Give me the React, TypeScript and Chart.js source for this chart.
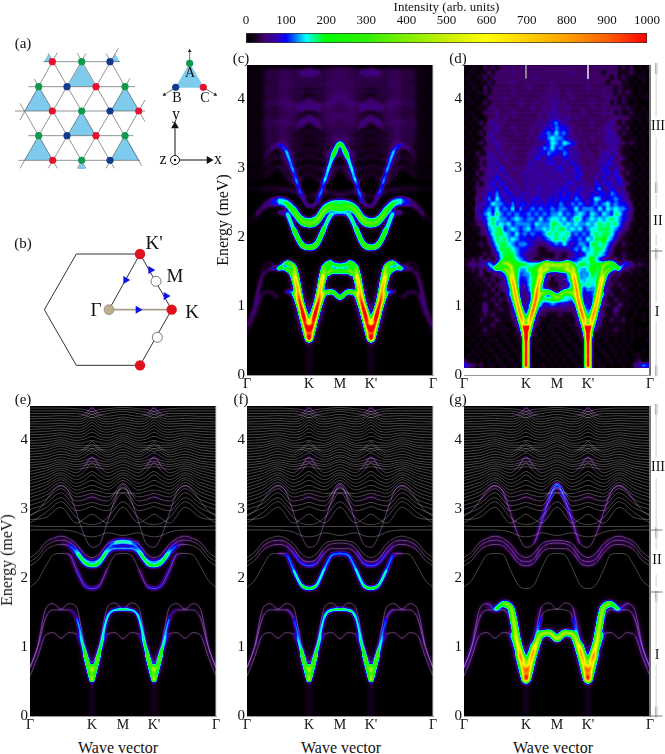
import React, { useEffect, useRef } from "react";
import { Chart, registerables } from "chart.js";

Chart.register(...registerables);

// --- colour scale ---
const colorValues = [0, 20, 45, 77, 100, 125, 150, 173, 198, 300, 400, 500, 600, 700, 800, 900, 1000];
const colorHex = ["#000000", "#14001c", "#40006c", "#3000b0", "#0000ff", "#0080ff", "#00ffff", "#00ff80", "#00ff00", "#30f000", "#80f000", "#c8f000", "#ffff00", "#ffd000", "#ffa000", "#ff6000", "#ff0000"];
const colorTicks = [0, 100, 200, 300, 400, 500, 600, 700, 800, 900, 1000];

// --- axes ---
const energyTicks = [0, 1, 2, 3, 4];
const kTickValues = [0, 1, 1.5, 2, 3];
const kTickLabels = ["Γ", "K", "M", "K'", "Γ"];

// wave vector grids, Γ=0 K=1 M=1.5 K'=2 Γ=3
const kFine = [0, 0.125, 0.25, 0.375, 0.5, 0.625, 0.75, 0.875, 1, 1.125, 1.25, 1.375, 1.5, 1.625, 1.75, 1.875, 2, 2.125, 2.25, 2.375, 2.5, 2.625, 2.75, 2.875, 3];
const kUpper = [0, 0.25, 0.5, 0.75, 0.875, 1, 1.125, 1.25, 1.5, 1.75, 1.875, 2, 2.125, 2.25, 2.5, 2.75, 3];
const kRing = [1.3, 1.375, 1.5, 1.625, 1.7];

const low1 = [0.58, 0.86, 1.17, 1.21, 1.13, 1.21, 1.19, 0.9, 0.52, 0.9, 1.19, 1.21, 1.12, 1.21, 1.19, 0.9, 0.52, 0.9, 1.19, 1.21, 1.13, 1.21, 1.17, 0.86, 0.58];
const low2 = [0.7, 1.0, 1.42, 1.54, 1.54, 1.54, 1.42, 0.97, 0.66, 0.97, 1.44, 1.54, 1.55, 1.54, 1.44, 0.97, 0.66, 0.97, 1.42, 1.54, 1.54, 1.54, 1.42, 1.0, 0.7];
const low3 = [0.7, 1.02, 1.55, 1.63, 1.55, 1.63, 1.58, 1.05, 0.78, 1.05, 1.58, 1.64, 1.55, 1.64, 1.58, 1.05, 0.78, 1.05, 1.58, 1.63, 1.55, 1.63, 1.55, 1.02, 0.7];
const mid1 = [1.87, 1.97, 2.17, 2.34, 2.36, 2.35, 2.12, 1.9, 1.85, 1.9, 2.14, 2.34, 2.36, 2.34, 2.14, 1.9, 1.85, 1.9, 2.12, 2.35, 2.36, 2.34, 2.17, 1.97, 1.87];
const mid2 = [2.18, 2.26, 2.4, 2.47, 2.49, 2.47, 2.36, 2.22, 2.18, 2.22, 2.37, 2.43, 2.43, 2.43, 2.37, 2.22, 2.18, 2.22, 2.36, 2.47, 2.49, 2.47, 2.4, 2.26, 2.18];
const mid3 = [2.24, 2.32, 2.46, 2.53, 2.55, 2.53, 2.43, 2.28, 2.24, 2.28, 2.44, 2.5, 2.51, 2.5, 2.44, 2.28, 2.24, 2.28, 2.43, 2.53, 2.55, 2.53, 2.46, 2.32, 2.24];
const mid4 = [2.3, 2.38, 2.52, 2.58, 2.61, 2.58, 2.5, 2.36, 2.3, 2.36, 2.5, 2.54, 2.55, 2.54, 2.5, 2.36, 2.3, 2.36, 2.5, 2.58, 2.61, 2.58, 2.52, 2.38, 2.3];
const hump = [2.9, 2.98, 3.12, 3.27, 3.34, 3.26, 2.95, 2.62, 2.45, 2.5, 2.82, 3.15, 3.36, 3.15, 2.82, 2.5, 2.45, 2.62, 2.95, 3.26, 3.34, 3.27, 3.12, 2.98, 2.9];
const ringTop = [1.57, 1.6, 1.6, 1.6, 1.57];
const ringMid = [1.46, 1.5, 1.5, 1.5, 1.46];

const upperBands = [
  [2.7, 2.7, 2.7, 2.67, 2.62, 2.6, 2.62, 2.66, 2.62, 2.66, 2.62, 2.6, 2.62, 2.67, 2.7, 2.7, 2.7],
  [2.76, 2.75, 2.75, 2.75, 2.75, 2.75, 2.75, 2.75, 2.75, 2.75, 2.75, 2.75, 2.75, 2.75, 2.75, 2.75, 2.76],
  [2.85, 2.88, 3.03, 2.8, 2.86, 2.93, 2.86, 2.8, 3.03, 2.8, 2.86, 2.93, 2.86, 2.8, 3.03, 2.88, 2.85],
  [2.8, 2.95, 3.11, 2.88, 2.8, 2.78, 2.8, 2.88, 3.11, 2.88, 2.8, 2.78, 2.8, 2.88, 3.11, 2.95, 2.8],
  [2.92, 3.02, 3.17, 2.98, 3.0, 3.04, 3.0, 2.98, 3.24, 2.98, 3.0, 3.04, 3.0, 2.98, 3.17, 3.02, 2.92],
  [3.0, 3.08, 3.24, 3.05, 3.07, 3.1, 3.07, 3.05, 3.32, 3.05, 3.07, 3.1, 3.07, 3.05, 3.24, 3.08, 3.0],
  [3.06, 3.14, 3.3, 3.12, 3.14, 3.18, 3.14, 3.12, 3.38, 3.12, 3.14, 3.18, 3.14, 3.12, 3.3, 3.14, 3.06],
  [3.12, 3.2, 3.35, 3.18, 3.2, 3.23, 3.2, 3.18, 3.3, 3.18, 3.2, 3.23, 3.2, 3.18, 3.35, 3.2, 3.12],
  [3.17, 3.25, 3.39, 3.23, 3.26, 3.28, 3.26, 3.23, 3.24, 3.23, 3.26, 3.28, 3.26, 3.23, 3.39, 3.25, 3.17],
  [3.22, 3.3, 3.43, 3.28, 3.31, 3.35, 3.31, 3.28, 3.42, 3.28, 3.31, 3.35, 3.31, 3.28, 3.43, 3.3, 3.22],
  [3.27, 3.35, 3.46, 3.33, 3.37, 3.42, 3.37, 3.33, 3.46, 3.33, 3.37, 3.42, 3.37, 3.33, 3.46, 3.35, 3.27],
  [3.32, 3.39, 3.5, 3.38, 3.42, 3.5, 3.42, 3.38, 3.5, 3.38, 3.42, 3.5, 3.42, 3.38, 3.5, 3.39, 3.32],
  [3.37, 3.44, 3.53, 3.43, 3.48, 3.55, 3.48, 3.43, 3.53, 3.43, 3.48, 3.55, 3.48, 3.43, 3.53, 3.44, 3.37],
  [3.42, 3.48, 3.57, 3.48, 3.55, 3.68, 3.55, 3.48, 3.57, 3.48, 3.55, 3.68, 3.55, 3.48, 3.57, 3.48, 3.42],
  [3.46, 3.52, 3.6, 3.53, 3.62, 3.76, 3.62, 3.53, 3.61, 3.53, 3.62, 3.76, 3.62, 3.53, 3.6, 3.52, 3.46],
  [3.51, 3.56, 3.63, 3.58, 3.6, 3.62, 3.6, 3.58, 3.65, 3.58, 3.6, 3.62, 3.6, 3.58, 3.63, 3.56, 3.51],
  [3.55, 3.6, 3.66, 3.62, 3.64, 3.66, 3.64, 3.62, 3.69, 3.62, 3.64, 3.66, 3.64, 3.62, 3.66, 3.6, 3.55],
  [3.6, 3.63, 3.69, 3.65, 3.67, 3.7, 3.67, 3.65, 3.72, 3.65, 3.67, 3.7, 3.67, 3.65, 3.69, 3.63, 3.6],
  [3.64, 3.67, 3.72, 3.69, 3.71, 3.74, 3.71, 3.69, 3.76, 3.69, 3.71, 3.74, 3.71, 3.69, 3.72, 3.67, 3.64],
  [3.68, 3.7, 3.76, 3.72, 3.76, 3.82, 3.76, 3.72, 3.79, 3.72, 3.76, 3.82, 3.76, 3.72, 3.76, 3.7, 3.68],
  [3.72, 3.74, 3.8, 3.76, 3.81, 3.88, 3.81, 3.76, 3.83, 3.76, 3.81, 3.88, 3.81, 3.76, 3.8, 3.74, 3.72],
  [3.76, 3.78, 3.84, 3.79, 3.85, 3.94, 3.85, 3.79, 3.87, 3.79, 3.85, 3.94, 3.85, 3.79, 3.84, 3.78, 3.76],
  [3.8, 3.82, 3.88, 3.83, 3.88, 3.98, 3.88, 3.83, 3.91, 3.83, 3.88, 3.98, 3.88, 3.83, 3.88, 3.82, 3.8],
  [3.84, 3.86, 3.92, 3.86, 3.87, 3.84, 3.87, 3.86, 3.94, 3.86, 3.87, 3.84, 3.87, 3.86, 3.92, 3.86, 3.84],
  [3.88, 3.9, 3.95, 3.9, 3.9, 3.88, 3.9, 3.9, 3.98, 3.9, 3.9, 3.88, 3.9, 3.9, 3.95, 3.9, 3.88],
  [3.92, 3.93, 3.98, 3.93, 3.93, 3.92, 3.93, 3.93, 4.01, 3.93, 3.93, 3.92, 3.93, 3.93, 3.98, 3.93, 3.92],
  [3.96, 3.97, 4.01, 3.96, 3.97, 4.0, 3.97, 3.96, 4.04, 3.96, 3.97, 4.0, 3.97, 3.96, 4.01, 3.97, 3.96],
  [4.0, 4.01, 4.04, 4.0, 4.02, 4.06, 4.02, 4.0, 4.07, 4.0, 4.02, 4.06, 4.02, 4.0, 4.04, 4.01, 4.0],
  [4.04, 4.05, 4.08, 4.04, 4.06, 4.12, 4.06, 4.04, 4.1, 4.04, 4.06, 4.12, 4.06, 4.04, 4.08, 4.05, 4.04],
  [4.08, 4.09, 4.11, 4.08, 4.1, 4.17, 4.1, 4.08, 4.14, 4.08, 4.1, 4.17, 4.1, 4.08, 4.11, 4.09, 4.08],
  [4.12, 4.13, 4.15, 4.12, 4.14, 4.22, 4.14, 4.12, 4.17, 4.12, 4.14, 4.22, 4.14, 4.12, 4.15, 4.13, 4.12],
  [4.16, 4.17, 4.18, 4.16, 4.18, 4.26, 4.18, 4.16, 4.2, 4.16, 4.18, 4.26, 4.18, 4.16, 4.18, 4.17, 4.16],
  [4.2, 4.2, 4.22, 4.2, 4.22, 4.3, 4.22, 4.2, 4.24, 4.2, 4.22, 4.3, 4.22, 4.2, 4.22, 4.2, 4.2],
  [4.24, 4.24, 4.25, 4.24, 4.26, 4.34, 4.26, 4.24, 4.27, 4.24, 4.26, 4.34, 4.26, 4.24, 4.25, 4.24, 4.24],
  [4.27, 4.28, 4.29, 4.27, 4.3, 4.38, 4.3, 4.27, 4.31, 4.27, 4.3, 4.38, 4.3, 4.27, 4.29, 4.28, 4.27],
  [4.31, 4.32, 4.32, 4.31, 4.33, 4.42, 4.33, 4.31, 4.34, 4.31, 4.33, 4.42, 4.33, 4.31, 4.32, 4.32, 4.31],
  [4.35, 4.35, 4.36, 4.35, 4.37, 4.47, 4.37, 4.35, 4.38, 4.35, 4.37, 4.47, 4.37, 4.35, 4.36, 4.35, 4.35],
  [4.39, 4.39, 4.39, 4.39, 4.37, 4.33, 4.37, 4.39, 4.42, 4.39, 4.37, 4.33, 4.37, 4.39, 4.39, 4.39, 4.39],
  [4.43, 4.43, 4.43, 4.43, 4.41, 4.38, 4.41, 4.43, 4.45, 4.43, 4.41, 4.38, 4.41, 4.43, 4.43, 4.43, 4.43],
  [4.47, 4.47, 4.47, 4.46, 4.45, 4.42, 4.45, 4.46, 4.48, 4.46, 4.45, 4.42, 4.45, 4.46, 4.47, 4.47, 4.47],
];

// --- intensities along each band, per panel ---
const cLow1 = [30, 40, 60, 60, 50, 0, 200, 450, 550, 450, 380, 290, 280, 290, 380, 450, 550, 450, 200, 0, 50, 60, 60, 40, 30];
const cLow2 = [30, 50, 60, 75, 90, 200, 420, 450, 550, 450, 380, 100, 0, 100, 380, 450, 550, 450, 420, 200, 90, 75, 60, 50, 30];
const cLow3 = [20, 30, 40, 40, 70, 260, 420, 450, 450, 400, 340, 100, 0, 100, 340, 400, 450, 450, 420, 260, 70, 40, 40, 30, 20];
const cRingTop = [150, 150, 140, 150, 150];
const cRingMid = [260, 260, 250, 260, 260];
const cMid1 = [0, 0, 0, 0, 20, 110, 210, 280, 300, 280, 200, 130, 110, 130, 200, 280, 300, 280, 210, 110, 20, 0, 0, 0, 0];
const cMid2 = [10, 20, 50, 70, 110, 130, 190, 240, 290, 260, 240, 270, 260, 270, 240, 260, 290, 240, 190, 130, 110, 70, 50, 20, 10];
const cMid3 = [10, 20, 60, 70, 120, 130, 130, 160, 220, 170, 150, 160, 170, 160, 150, 170, 220, 160, 130, 130, 120, 70, 60, 20, 10];
const cHump = [0, 0, 5, 25, 60, 110, 110, 90, 60, 80, 120, 150, 240, 150, 120, 80, 60, 90, 110, 110, 60, 25, 5, 0, 0];
const cFaint = [0, 40, 75, 70, 60, 60, 60, 70, 78, 70, 60, 60, 60, 70, 75, 40, 0];

const dLow1 = [0, 0, 0, 0, 0, 0, 60, 120, 200, 200, 240, 260, 250, 260, 240, 200, 200, 120, 60, 0, 0, 0, 0, 0, 0];
const dLow2 = [0, 0, 0, 40, 60, 150, 420, 500, 500, 500, 420, 120, 0, 120, 420, 500, 500, 500, 420, 150, 60, 40, 0, 0, 0];
const dLow3 = [0, 0, 20, 60, 110, 240, 300, 330, 320, 330, 280, 120, 0, 120, 280, 330, 320, 330, 300, 240, 110, 60, 20, 0, 0];
const dRingTop = [230, 230, 220, 230, 230];

const eLow1 = [40, 50, 50, 45, 40, 45, 40, 160, 320, 160, 40, 45, 40, 45, 40, 160, 320, 160, 40, 45, 40, 45, 50, 50, 40];
const eLow2 = [40, 50, 50, 50, 50, 60, 150, 200, 280, 210, 200, 220, 200, 220, 200, 210, 280, 200, 150, 60, 50, 50, 50, 50, 40];
const eLow3 = [40, 50, 45, 40, 40, 40, 30, 20, 60, 20, 30, 40, 40, 40, 30, 20, 60, 20, 30, 40, 40, 40, 45, 50, 40];
const eMid1 = [0, 0, 0, 0, 15, 75, 90, 90, 105, 85, 50, 10, 0, 10, 50, 85, 105, 90, 90, 75, 15, 0, 0, 0, 0];
const eMid2 = [0, 0, 0, 10, 30, 80, 150, 190, 215, 185, 130, 125, 130, 125, 130, 185, 215, 190, 150, 80, 30, 10, 0, 0, 0];
const eMid3 = [0, 0, 20, 40, 50, 60, 90, 110, 120, 110, 100, 110, 130, 110, 100, 110, 120, 110, 90, 60, 50, 40, 20, 0, 0];
const eMid4 = [0, 20, 40, 45, 50, 45, 40, 30, 25, 30, 60, 110, 115, 110, 60, 30, 25, 30, 40, 45, 50, 45, 40, 20, 0];
const eHump = [0, 0, 10, 25, 35, 30, 25, 15, 10, 15, 25, 30, 45, 30, 25, 15, 10, 15, 25, 30, 35, 25, 10, 0, 0];

const fLow2 = [40, 50, 50, 50, 50, 60, 130, 170, 260, 170, 210, 250, 220, 250, 210, 170, 260, 170, 130, 60, 50, 50, 50, 50, 40];
const fMid1 = [0, 0, 0, 0, 20, 100, 170, 200, 230, 200, 150, 130, 135, 130, 150, 200, 230, 200, 170, 100, 20, 0, 0, 0, 0];
const fMid2 = [0, 0, 30, 50, 60, 60, 80, 100, 115, 100, 70, 50, 40, 50, 70, 100, 115, 100, 80, 60, 60, 50, 30, 0, 0];
const fMid3 = [0, 20, 50, 60, 60, 50, 50, 50, 60, 50, 40, 40, 40, 40, 40, 50, 60, 50, 50, 50, 60, 60, 50, 20, 0];
const fHump = [0, 0, 10, 30, 45, 40, 30, 15, 10, 15, 30, 50, 70, 50, 30, 15, 10, 15, 30, 40, 45, 30, 10, 0, 0];

const gLow1 = [40, 45, 45, 40, 30, 40, 50, 300, 470, 450, 470, 480, 480, 480, 470, 450, 470, 300, 50, 40, 30, 40, 45, 45, 40];
const gLow2 = [40, 50, 50, 50, 50, 40, 40, 140, 300, 140, 30, 20, 20, 20, 30, 140, 300, 140, 40, 40, 50, 50, 50, 50, 40];
const gLow3 = [40, 50, 40, 60, 100, 340, 450, 450, 470, 80, 30, 20, 20, 20, 30, 80, 470, 450, 450, 340, 100, 60, 40, 50, 40];
const gMid2 = [0, 10, 35, 45, 50, 45, 50, 60, 70, 60, 50, 45, 45, 45, 50, 60, 70, 60, 50, 45, 50, 45, 35, 10, 0];
const gMid3 = [0, 15, 40, 55, 55, 55, 60, 65, 65, 60, 50, 50, 50, 50, 50, 60, 65, 65, 60, 55, 55, 55, 40, 15, 0];
const gMid4 = [0, 15, 35, 50, 55, 50, 50, 50, 50, 50, 45, 40, 40, 40, 45, 50, 50, 50, 50, 50, 55, 50, 35, 15, 0];
const gHump = [0, 10, 30, 55, 60, 60, 70, 40, 15, 50, 80, 95, 130, 95, 80, 50, 15, 40, 70, 60, 60, 55, 30, 10, 0];

const kDomeGlow = [0, 0, 0, 5, 30, 50, 30, 5, 0, 5, 30, 50, 30, 5, 0, 0, 0];

// streak under K and K', and the bright spot at the bottom of each valley
const kTailLeft = [1, 1];
const kTailRight = [2, 2];
const tailEnergy = [0.5, 0];
const tailWeight = [45, 8];
const kCoreEnergy = [0.5, 0.74];
const cCoreWeight = [650, 650];
const eCoreWeight = [300, 300];
const gCoreWeight = [500, 500];
const dTailEnergy = [0.72, 0.1];
const dTailWeight = [800, 800];
const dTailHalo = [300, 300];

// measured map of panel d, estimated cell by cell: 0 dark .. 9 bright, top row at 4.5 meV
const speckleLevels = [0, 20, 42, 60, 80, 100, 130, 155, 190, 240];
const dSpeckleRows = [
  "10110212122222222222222222222222222222212120101",
  "01101121222232222222222222232222222122211121010",
  "11011212222222222232222222222223222221212110 11",
  "01101121222232222222223222222222222212221101 01",
  "10110212222222223222223222222223222222121110 10",
  "01011212222232222222232322322222222322121210101",
  "11010122223222222222323322232222222232212111011",
  "01101212222222322232233423222222322231212101 00",
  "10011123222222222322324323322222222322221211010",
  "01101222322232222223243432322232222323121120101",
  "10110122323222222223234433423222222222322211101",
  "01012134232222222233345644322222322234212110101",
  "10101223422232222323454655432222222343221201010",
  "01012143322223222324565756432322223244312110101",
  "10101234232222223235467665433222322343421111010",
  "01012133423222222233457657654232222243422121010",
  "10101232432232222344657565443222223234321101010",
  "01021143242322223435465546534323222443421110101",
  "10112234324232223354354435443322323435232101010",
  "01012143432322224433445344354322234354321110101",
  "10112234253233234343343453435432323543432111010",
  "01021243434322343434334344344523234453531210101",
  "10112334543432334343433434435432343534452111010",
  "01021245354343243434344343544343254454353210101",
  "10122344535434334344434445434534356345433111010",
  "01023354644543444344344454545443545546544210101",
  "10132464754454534454445455546544576455654311010",
  "01034457665464554545455465465654565675655420101",
  "10143565756574645656556566557566657576766531010",
  "01044675865656556565656675656765765765875430101",
  "10134578766567656657567767568756767678765421010",
  "01123478676756666576668876767667678787864311001",
  "10112367885676567566768788676756778887653210110",
  "01012257887657565655687877856565787887532110101",
  "10101136878676554544567878655657688976421101010",
  "01012125788765665432345657545665887864212110101",
  "10101113688876554321123343456576788753111101010",
  "01011212478886543221111221235457787642112110101",
  "11213121368987653211111211245677975311212111 11",
  "12322343457899887777888887766887888654322321211",
  "11212132345788668899988899987667985443131211101",
  "01112112234577566865322234568566873432121110110",
  "10111212123466456764321233567567763321211101001",
  "01011121222465346753211122357668652212121110110",
  "10101112122355235775321123577546532121112101001",
  "01011211211344123577645567765334421212111110100",
  "10101112121233212466788877643223312111211101010",
  "01011311211132113345456544321123112121131110101",
  "00101411121122111232222222311122121111411101000",
  "01011212111121111111211121111112111211211001 01",
  "00102111211111101111101111101111112112112010010",
  "01011112111011011011011110111011112111111010000",
  "10101211111101101101011011011011011111211010101",
  "01011111011011010110101101101101101111101010100",
  "00101011101101101011010110110110110110101010001",
  "01010110110110110110101011011011011011010100000",
  "00101011011011001011010101101101101101101010010",
  "01010101101101110101101010110110110110101001100",
  "20101010110110101010010101011011011011010101201",
  "53212011011011010101101010101101101101001013465",
].map((row) => row.replace(/ /g, ""));
const dStripeEnergy = [4.5, 4.3];

// --- right hand brackets of panels d and g ---
const bracketX = 3.1;
const dBracketSpans = [[4.38, 3.75], [3.45, 2.78], [2.62, 2.42], [2.05, 1.88], [1.72, 1.05], [0.78, 0.14]];
const dBreaks = [4.45, 2.72, 1.76, 0.06];
const dLevels = [1.8];
const gBracketSpans = [[4.38, 3.75], [3.45, 2.75], [2.62, 2.42], [2.05, 1.88], [1.7, 1.0], [0.75, 0.12]];
const gBreaks = [4.45, 2.66, 1.74, 0.06];
const gLevels = [2.7, 1.8, 0];

// --- lattice sketch (a) and zone sketch (b), in sketch units ---
const latticeLines = [
  [130, 185, 360, 185], [85, 260, 405, 260], [45, 333, 435, 333], [85, 407, 400, 407], [55, 481, 420, 481],
  [60, 360, 172, 158], [145, 505, 355, 145], [60, 505, 258, 160], [232, 505, 390, 235], [318, 505, 435, 300],
  [103, 237, 258, 505], [145, 160, 343, 505], [232, 160, 425, 497], [318, 160, 435, 365], [60, 310, 172, 505],
];
const triangleX = [145, 346, 245, 116, 375, 245, 116, 375, 245, 569];
const triangleY = [178, 178, 235, 308, 308, 382, 456, 456, 500, 238];
const triangleR = [16, 16, 50, 50, 50, 50, 50, 50, 14, 50];
const redX = [157, 288, 157, 416, 288, 158, 610];
const redY = [185, 260, 333, 333, 407, 481, 262];
const greenX = [245, 116, 375, 245, 116, 375, 245, 569];
const greenY = [185, 260, 260, 333, 407, 407, 481, 190];
const navyX = [330, 201, 330, 201, 330, 527];
const navyY = [185, 260, 333, 407, 481, 262];
const moments = [[569, 190, 569, 155], [527, 262, 493, 284], [610, 262, 646, 284]];
const momentTipX = [569, 493, 646];
const momentTipY = [153, 284, 284];
const momentTipAngle = [0, 238, 122];
const frameLines = [[525, 480, 525, 385], [525, 480, 625, 480]];
const frameTipX = [525, 627];
const frameTipY = [378, 480];
const frameTipAngle = [0, 90];
const originX = [525];
const originY = [480];
const hexagonX = [133, 229, 420, 515, 420, 229, 133];
const hexagonY = [929, 762, 762, 929, 1096, 1096, 929];
const pathGammaK = [[327, 929], [515, 929]];
const pathGammaKp = [[327, 929], [420, 762]];
const gammaX = [327];
const gammaY = [929];
const kPointX = [420, 515, 420];
const kPointY = [762, 929, 1096];
const mPointX = [468, 472];
const mPointY = [844, 1012];
const arrowX = [414, 377, 452, 498];
const arrowY = [929, 840, 810, 888];
const arrowAngle = [90, 209, 330, 330];

// --- all free text on the page ---
const pageLabels = [
  { t: "(a)", x: 23, y: 43, s: 15 }, { t: "(b)", x: 23, y: 243, s: 15 }, { t: "(c)", x: 241, y: 58, s: 15 },
  { t: "(d)", x: 458, y: 58, s: 15 }, { t: "(e)", x: 23, y: 399, s: 15 }, { t: "(f)", x: 241, y: 399, s: 15 },
  { t: "(g)", x: 458, y: 399, s: 15 },
  { t: "A", x: 190, y: 73, s: 14 }, { t: "B", x: 177, y: 98, s: 14 }, { t: "C", x: 205, y: 98, s: 14 },
  { t: "y", x: 176, y: 114, s: 16 }, { t: "x", x: 218, y: 159, s: 16 }, { t: "z", x: 163, y: 159, s: 16 },
  { t: "K'", x: 154, y: 242, s: 19 }, { t: "M", x: 175, y: 275, s: 19 }, { t: "K", x: 192, y: 311, s: 19 }, { t: "Γ", x: 96, y: 309, s: 19 },
  { t: "Energy (meV)", x: 223, y: 220, s: 16, r: -90 }, { t: "Energy (meV)", x: 7, y: 560, s: 16, r: -90 },
  { t: "Wave vector", x: 118, y: 748, s: 16 }, { t: "Wave vector", x: 341, y: 748, s: 16 }, { t: "Wave vector", x: 553, y: 748, s: 16 },
  { t: "III", x: 658, y: 126, s: 14 }, { t: "II", x: 658, y: 221, s: 14 }, { t: "I", x: 657, y: 312, s: 14 },
  { t: "III", x: 658, y: 467, s: 14 }, { t: "II", x: 657, y: 560, s: 14 }, { t: "I", x: 657, y: 655, s: 14 },
];

const SERIF = "'Liberation Serif', serif";
const PLOT_LEFT = 22;
const PLOT_TOP = 5;
const PLOT_BOTTOM = 15;
const THIN_COLOR = "rgba(190,190,190,0.52)";

function buildLut() {
  const parse = (h: string) => [1, 3, 5].map((i) => parseInt(h.slice(i, i + 2), 16));
  const lut: number[][] = [];
  for (let g = 0; g < 256; g++) {
    const v = (g / 255) * 1000;
    let i = 0;
    while (i < colorValues.length - 2 && v > colorValues[i + 1]) i++;
    const f = (v - colorValues[i]) / (colorValues[i + 1] - colorValues[i]);
    const a = parse(colorHex[i]);
    const b = parse(colorHex[i + 1]);
    lut.push(a.map((c, n) => c + (b[n] - c) * f));
  }
  return lut;
}
const lut = buildLut();

const alphaOf = (v: number) => `rgba(255,255,255,${Math.max(0, Math.min(v, 1000)) / 1000})`;
const greyOf = (v: number) => {
  const g = Math.round((Math.min(v, 1000) / 1000) * 255);
  return `rgb(${g},${g},${g})`;
};

// intensity is drawn as additive grey, then the finished plot area goes through the colour scale
function applyColourScale(chart: any) {
  const ctx = chart.ctx;
  const { left, top, right, bottom } = chart.chartArea;
  const floorEnergy = chart.options.plugins.heat.floorEnergy || 0;
  const floorY = chart.scales.y.getPixelForValue(floorEnergy);
  const dpr = chart.currentDevicePixelRatio;
  const sx = Math.round(left * dpr);
  const sy = Math.round(top * dpr);
  const w = Math.round((right - left) * dpr);
  const h = Math.round((floorY - top) * dpr);
  const img = ctx.getImageData(sx, sy, w, h);
  const px = img.data;
  for (let i = 0; i < px.length; i += 4) {
    const c = lut[px[i]];
    px[i] = c[0];
    px[i + 1] = c[1];
    px[i + 2] = c[2];
    px[i + 3] = 255;
  }
  ctx.putImageData(img, sx, sy);
  if (floorEnergy > 0) ctx.clearRect(left, floorY, right - left, bottom - floorY);
  chart.$heatDone = true;
}

const heatPlugin = {
  id: "heat",
  beforeDatasetsDraw(chart: any) {
    const { left, top, right, bottom } = chart.chartArea;
    chart.ctx.fillStyle = "#000";
    chart.ctx.fillRect(left, top, right - left, bottom - top);
    chart.$heatDone = false;
  },
  beforeDatasetDraw(chart: any, args: any) {
    const ds = chart.data.datasets[args.index];
    const ctx = chart.ctx;
    if (ds.heat) {
      ctx.save();
      if (!ds.soften) ctx.globalCompositeOperation = "lighter";
      if (ds.blur) ctx.filter = `blur(${ds.blur}px)`;
    } else if (!chart.$heatDone) {
      applyColourScale(chart);
    }
  },
  afterDatasetDraw(chart: any, args: any) {
    const ds = chart.data.datasets[args.index];
    const ctx = chart.ctx;
    if (ds.heat) ctx.restore();
    if (ds.soften) {
      const { left, top, right, bottom } = chart.chartArea;
      const dpr = chart.currentDevicePixelRatio;
      ctx.save();
      ctx.setTransform(1, 0, 0, 1, 0, 0);
      ctx.beginPath();
      ctx.rect(left * dpr, top * dpr, (right - left) * dpr, (bottom - top) * dpr);
      ctx.clip();
      ctx.filter = `blur(${ds.soften}px)`;
      const w = (right - left) * dpr;
      const h = (bottom - top) * dpr;
      ctx.drawImage(ctx.canvas, left * dpr, top * dpr, w, h, left * dpr, top * dpr, w, h);
      ctx.restore();
    }
  },
  afterDatasetsDraw(chart: any) {
    if (!chart.$heatDone) applyColourScale(chart);
  },
};

const toPoints = (xs: number[], ys: number[]) => xs.map((x, i) => ({ x, y: ys[i] }));

function heatBand(k: number[], band: number[], weight: number[], width: number, blur = 1, haloShare = 0.09) {
  // the dim stretches sit much lower on the scale than the bright ones
  const shown = weight.map((v) => (v < 80 ? v * 0.55 : v));
  const one = (w: number[], bw: number, b: number) => ({
    data: toPoints(k, band),
    heat: true,
    blur: b,
    order: 5,
    borderWidth: bw,
    pointRadius: 0,
    cubicInterpolationMode: "monotone",
    borderColor: "#fff",
    segment: { borderColor: (c: any) => alphaOf((w[c.p0DataIndex] + w[c.p1DataIndex]) / 2) },
  });
  return [one(shown, width, blur), one(shown.map((v) => v * haloShare), width + 6, 3.5)];
}

function tailLine(xs: number[], es: number[], ws: number[], width: number, blur: number) {
  return {
    data: toPoints(xs, es),
    heat: true,
    blur,
    order: 5,
    borderWidth: width,
    pointRadius: 0,
    borderColor: alphaOf(ws[0]),
    segment: { borderColor: () => alphaOf((ws[0] + ws[1]) / 2) },
  };
}

function thinLine(k: number[], band: number[], weight?: number[]) {
  return {
    data: toPoints(k, band),
    order: 2,
    borderWidth: 0.7,
    pointRadius: 0,
    cubicInterpolationMode: "monotone",
    borderColor: THIN_COLOR,
    segment: {
      borderColor: (c: any) =>
        weight && (weight[c.p0DataIndex] > 130 || weight[c.p1DataIndex] > 130) ? "rgba(0,0,0,0)" : THIN_COLOR,
    },
  };
}

function plainLine(xs: number[], ys: number[], color: string, width: number) {
  return { data: toPoints(xs, ys), order: 1, clip: false, borderWidth: width, borderColor: color, pointRadius: 0 };
}

function frameSets(rightColor: string, rightWidth: number) {
  return [plainLine([3, 3], [0, 4.5], rightColor, rightWidth)];
}

function bracketSets(spans: number[][], breaks: number[], levels: number[]) {
  const sets: any[] = [];
  spans.forEach((s) => sets.push(plainLine([bracketX, bracketX], s, "#d4d4d4", 0.5)));
  breaks.forEach((e) => {
    sets.push(plainLine([bracketX - 0.012, bracketX - 0.012], [e - 0.08, e + 0.08], "#666", 0.5));
    sets.push(plainLine([bracketX + 0.012, bracketX + 0.012], [e - 0.08, e + 0.08], "#666", 0.5));
  });
  levels.forEach((e) => sets.push(plainLine([3, 3.2], [e, e], "#444", 0.7)));
  return sets;
}

const allThin = (lowW: number[][], midW?: number[][]) => [
  thinLine(kFine, low1, lowW[0]),
  thinLine(kFine, low2, lowW[1]),
  thinLine(kFine, low3, lowW[2]),
  thinLine(kFine, mid1, midW ? midW[0] : undefined),
  thinLine(kFine, mid2, midW ? midW[1] : undefined),
  thinLine(kFine, mid3, midW ? midW[2] : undefined),
  thinLine(kFine, mid4),
  thinLine(kFine, hump),
  ...upperBands.map((b) => thinLine(kUpper, b)),
];

const tails = () => [tailLine(kTailLeft, tailEnergy, tailWeight, 5, 2), tailLine(kTailRight, tailEnergy, tailWeight, 5, 2)];
const cores = (w: number[], width: number, blur: number) => [
  tailLine(kTailLeft, kCoreEnergy, w, width, blur),
  tailLine(kTailRight, kCoreEnergy, w, width, blur),
];
const domeGlow = () => [upperBands[14], upperBands[36], upperBands[6]].map((b) => heatBand(kUpper, b, kDomeGlow, 4, 1.5, 0.3)).flat();

function panelCSets() {
  return [
    ...heatBand(kFine, low1, cLow1, 4, 1.3),
    ...heatBand(kFine, low2, cLow2, 4, 1.3),
    ...heatBand(kFine, low3, cLow3, 4, 1.3),
    ...heatBand(kRing, ringTop, cRingTop, 4, 1.2),
    ...heatBand(kRing, ringMid, cRingMid, 4, 1.2),
    ...heatBand(kFine, mid1, cMid1, 5),
    ...heatBand(kFine, mid2, cMid2, 5),
    ...heatBand(kFine, mid3, cMid3, 5),
    ...heatBand(kFine, hump, cHump, 4),
    ...upperBands.filter((_, i) => i % 2 === 0).map((b) => heatBand(kUpper, b, cFaint, 5, 2, 0)[0]),
    ...tails(),
    ...cores(cCoreWeight, 5, 1.5),
    ...frameSets("#cfcfcf", 1),
  ];
}

function panelDSets() {
  const cells: any[] = [];
  const shades: string[] = [];
  dSpeckleRows.forEach((row, r) => {
    for (let c = 0; c < row.length; c++) {
      const level = speckleLevels[Number(row[c])];
      cells.push({ x: (3 * (c + 0.5)) / 47, y: 4.5 - ((r + 0.5) * 4.4) / 60 });
      shades.push(greyOf(level));
    }
  });
  return [
    {
      data: cells,
      heat: true,
      soften: 1,
      order: 9,
      showLine: false,
      pointStyle: "rect",
      pointRadius: 3.7,
      pointBorderWidth: 0,
      pointBackgroundColor: shades,
    },
    ...heatBand(kFine, low1, dLow1, 3.5, 0.9),
    ...heatBand(kFine, low2, dLow2, 3.5, 0.9, 0.15),
    ...heatBand(kFine, low3, dLow3, 3.5, 0.9, 0.12),
    ...heatBand(kRing, ringTop, dRingTop, 3.5, 0.9),
    tailLine(kTailLeft, dTailEnergy, dTailWeight, 3.5, 1.1),
    tailLine(kTailRight, dTailEnergy, dTailWeight, 3.5, 1.1),
    tailLine(kTailLeft, dTailEnergy, dTailHalo, 7, 1.3),
    tailLine(kTailRight, dTailEnergy, dTailHalo, 7, 1.3),
    plainLine([1, 1], dStripeEnergy, "#b0b0b0", 1.4),
    plainLine([2, 2], dStripeEnergy, "#d0d0d0", 1),
    ...frameSets("#777", 2),
    ...bracketSets(dBracketSpans, dBreaks, dLevels),
  ];
}

function panelESets() {
  return [
    ...heatBand(kFine, low1, eLow1, 2.4),
    ...heatBand(kFine, low2, eLow2, 2.4),
    ...heatBand(kFine, low3, eLow3, 2.4),
    ...heatBand(kFine, mid1, eMid1, 3.5),
    ...heatBand(kFine, mid2, eMid2, 3.5),
    ...heatBand(kFine, mid3, eMid3, 3.5),
    ...heatBand(kFine, mid4, eMid4, 3.5),
    ...heatBand(kFine, hump, eHump, 4, 1.5),
    ...domeGlow(),
    ...tails(),
    ...cores(eCoreWeight, 3.5, 1.2),
    ...allThin([eLow1, eLow2, eLow3], [eMid1, eMid2, eMid3]),
    ...frameSets("#cfcfcf", 1),
  ];
}

function panelFSets() {
  return [
    ...heatBand(kFine, low1, eLow1, 2.4),
    ...heatBand(kFine, low2, fLow2, 2.6),
    ...heatBand(kFine, low3, eLow3, 2.4),
    ...heatBand(kFine, mid1, fMid1, 3.5),
    ...heatBand(kFine, mid2, fMid2, 3.5),
    ...heatBand(kFine, mid3, fMid3, 3.5),
    ...heatBand(kFine, hump, fHump, 4, 1.5),
    ...domeGlow(),
    ...tails(),
    ...cores(eCoreWeight, 3.5, 1.2),
    ...allThin([eLow1, fLow2, eLow3], [fMid1, fMid2, fMid3]),
    ...frameSets("#cfcfcf", 1),
  ];
}

function panelGSets() {
  return [
    ...heatBand(kFine, low1, gLow1, 4.5, 1.4),
    ...heatBand(kFine, low2, gLow2, 3.5),
    ...heatBand(kFine, low3, gLow3, 4.5, 1.4),
    ...heatBand(kFine, mid2, gMid2, 3.5),
    ...heatBand(kFine, mid3, gMid3, 3.5),
    ...heatBand(kFine, mid4, gMid4, 3.5),
    ...heatBand(kFine, hump, gHump, 4, 1.2),
    ...domeGlow(),
    ...tails(),
    ...cores(gCoreWeight, 6, 1.5),
    ...allThin([gLow1, gLow2, gLow3]),
    ...frameSets("#777", 2),
    ...bracketSets(gBracketSpans, gBreaks, gLevels),
  ];
}

function BandPanel({ left, top, width, rightPad, sets, floorEnergy = 0 }: any) {
  const ref = useRef<HTMLCanvasElement | null>(null);
  useEffect(() => {
    if (!ref.current) return;
    const chart = new Chart(ref.current, {
      type: "line",
      data: { datasets: sets() },
      plugins: [heatPlugin],
      options: {
        animation: false,
        responsive: false,
        devicePixelRatio: 1,
        events: [],
        layout: { autoPadding: false, padding: { left: 0, top: PLOT_TOP, right: rightPad, bottom: 0 } },
        plugins: { legend: { display: false }, tooltip: { enabled: false }, heat: { floorEnergy } },
        scales: {
          x: {
            type: "linear",
            min: 0,
            max: 3,
            grid: { display: false, drawTicks: false },
            border: { color: "#999" },
            afterBuildTicks: (s: any) => {
              s.ticks = kTickValues.map((value) => ({ value }));
            },
            afterFit: (s: any) => {
              s.height = PLOT_BOTTOM;
              s.paddingLeft = 0;
              s.paddingRight = 0;
            },
            ticks: {
              autoSkip: false,
              maxRotation: 0,
              padding: 1,
              color: "#111",
              font: { family: SERIF, size: 14 },
              callback: (_: any, i: number) => kTickLabels[i],
            },
          },
          y: {
            type: "linear",
            min: 0,
            max: 4.5,
            grid: { display: false, drawTicks: false },
            border: { color: "#999" },
            afterBuildTicks: (s: any) => {
              s.ticks = energyTicks.map((value) => ({ value }));
            },
            afterFit: (s: any) => {
              s.width = PLOT_LEFT;
              s.paddingTop = 0;
              s.paddingBottom = 0;
            },
            ticks: { padding: 2, color: "#111", font: { family: SERIF, size: 15 } },
          },
        },
      } as any,
    } as any);
    return () => chart.destroy();
  }, []);
  return <canvas ref={ref} width={width} height={330} style={{ position: "absolute", left, top, width, height: 330 }} />;
}

function ColorBar() {
  const ref = useRef<HTMLCanvasElement | null>(null);
  useEffect(() => {
    if (!ref.current) return;
    const chart = new Chart(ref.current, {
      type: "bar",
      data: {
        labels: ["Intensity"],
        datasets: [
          {
            data: [[0, 1000]],
            barPercentage: 1,
            categoryPercentage: 1,
            borderWidth: 1,
            borderColor: "#333",
            borderSkipped: false,
            backgroundColor: (c: any) => {
              const area = c.chart.chartArea;
              if (!area) return "#000";
              const g = c.chart.ctx.createLinearGradient(area.left, 0, area.right, 0);
              colorValues.forEach((v, i) => g.addColorStop(v / 1000, colorHex[i]));
              return g;
            },
          },
        ],
      },
      options: {
        animation: false,
        responsive: false,
        devicePixelRatio: 1,
        events: [],
        indexAxis: "y",
        layout: { autoPadding: false, padding: { left: 20, right: 15, top: 0, bottom: 1 } },
        plugins: { legend: { display: false }, tooltip: { enabled: false } },
        scales: {
          x: {
            position: "top",
            min: 0,
            max: 1000,
            grid: { display: false, drawTicks: false },
            border: { display: false },
            afterBuildTicks: (s: any) => {
              s.ticks = colorTicks.map((value) => ({ value }));
            },
            afterFit: (s: any) => {
              s.height = 33;
            },
            title: {
              display: true,
              text: "Intensity (arb. units)",
              color: "#111",
              padding: { top: 0, bottom: 0 },
              font: { family: SERIF, size: 13 },
            },
            ticks: {
              autoSkip: false,
              maxRotation: 0,
              padding: 5,
              color: "#111",
              font: { family: SERIF, size: 13 },
              callback: (v: any) => String(v),
            },
          },
          y: { display: false },
        },
      } as any,
    } as any);
    return () => chart.destroy();
  }, []);
  return <canvas ref={ref} width={439} height={44} style={{ position: "absolute", left: 226, top: 0, width: 439, height: 44 }} />;
}

function Sketches() {
  const ref = useRef<HTMLCanvasElement | null>(null);
  useEffect(() => {
    if (!ref.current) return;
    const line = (xs: number[], ys: number[], color: string, width: number, order = 3) => ({
      data: toPoints(xs, ys),
      borderColor: color,
      borderWidth: width,
      pointRadius: 0,
      order,
    });
    const dots = (xs: number[], ys: number[], color: string, radius: any, extra: any = {}) => ({
      data: toPoints(xs, ys),
      showLine: false,
      pointBackgroundColor: color,
      pointBorderWidth: 0,
      pointRadius: radius,
      order: 1,
      ...extra,
    });
    const datasets = [
      ...latticeLines.map((s) => line([s[0], s[2]], [s[1], s[3]], "#666", 0.7)),
      dots(triangleX, triangleY, "#7fcbee", triangleR.map((r) => r / 3), { pointStyle: "triangle", order: 4 }),
      dots(redX, redY, "#e8112d", 3.6),
      dots(greenX, greenY, "#0d9b4a", 3.6),
      dots(navyX, navyY, "#123a8c", 3.6),
      ...moments.map((s) => line([s[0], s[2]], [s[1], s[3]], "#333", 0.7)),
      dots(momentTipX, momentTipY, "#222", 2.2, { pointStyle: "triangle", pointRotation: momentTipAngle }),
      ...frameLines.map((s) => line([s[0], s[2]], [s[1], s[3]], "#111", 1)),
      dots(frameTipX, frameTipY, "#111", 4.5, { pointStyle: "triangle", pointRotation: frameTipAngle }),
      dots(originX, originY, "#fff", 4.5, { pointBorderWidth: 1, pointBorderColor: "#111", order: 2 }),
      dots(originX, originY, "#111", 1.2),
      line(hexagonX, hexagonY, "#333", 1),
      line(pathGammaK.map((p) => p[0]), pathGammaK.map((p) => p[1]), "#a89f88", 1.6, 2),
      line(pathGammaKp.map((p) => p[0]), pathGammaKp.map((p) => p[1]), "#333", 1, 2),
      dots(gammaX, gammaY, "#bdae8c", 5, { pointBorderWidth: 0.5, pointBorderColor: "#666" }),
      dots(kPointX, kPointY, "#e0101f", 5.2),
      dots(mPointX, mPointY, "#fff", 5, { pointBorderWidth: 0.7, pointBorderColor: "#444" }),
      dots(arrowX, arrowY, "#0a14e8", 4.6, { pointStyle: "triangle", pointRotation: arrowAngle, order: 0 }),
    ];
    const chart = new Chart(ref.current, {
      type: "line",
      data: { datasets },
      options: {
        animation: false,
        responsive: false,
        devicePixelRatio: 1,
        events: [],
        layout: { autoPadding: false, padding: 0 },
        plugins: { legend: { display: false }, tooltip: { enabled: false } },
        scales: {
          x: { type: "linear", display: false, min: 0, max: 675 },
          y: { type: "linear", display: false, min: 0, max: 1170, reverse: true },
        },
      } as any,
    } as any);
    return () => chart.destroy();
  }, []);
  return <canvas ref={ref} width={225} height={390} style={{ position: "absolute", left: 0, top: 0, width: 225, height: 390 }} />;
}

export default function App() {
  return (
    <div style={{ position: "absolute", left: 0, top: 0, width: 665, height: 754, overflow: "hidden", background: "#fff" }}>
      <ColorBar />
      <Sketches />
      <BandPanel left={225} top={60} width={216} rightPad={8} sets={panelCSets} />
      <BandPanel left={442} top={60} width={223} rightPad={15} sets={panelDSets} floorEnergy={0.1} />
      <BandPanel left={8} top={401} width={216} rightPad={8} sets={panelESets} />
      <BandPanel left={225} top={401} width={216} rightPad={8} sets={panelFSets} />
      <BandPanel left={442} top={401} width={223} rightPad={15} sets={panelGSets} />
      {pageLabels.map((l, i) => (
        <div
          key={i}
          style={{
            position: "absolute",
            left: l.x,
            top: l.y,
            transform: `translate(-50%, -50%) rotate(${l.r || 0}deg)`,
            fontFamily: SERIF,
            fontSize: l.s,
            color: "#111",
            whiteSpace: "nowrap",
            lineHeight: 1,
          }}
        >
          {l.t}
        </div>
      ))}
    </div>
  );
}
